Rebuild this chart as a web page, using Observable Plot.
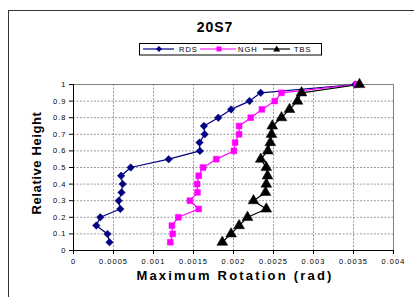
<!DOCTYPE html>
<html><head><meta charset="utf-8">
<script src="https://cdn.jsdelivr.net/npm/d3@7"></script>
<script src="https://cdn.jsdelivr.net/npm/@observablehq/plot@0.6"></script>
<style>
body{margin:0;background:#fff;font-family:Arial,"Liberation Sans",sans-serif}
#wrap{position:relative;width:414px;height:297px;overflow:hidden;background:#fff}
#chart{position:absolute;left:0;top:0}
#frame{position:absolute;left:8px;top:10px;width:420px;height:300px;border:1.5px solid #333;pointer-events:none}
.title{position:absolute;left:0;width:430px;top:19px;text-align:center;font-weight:bold;font-size:14px;letter-spacing:1px}
.xlab{position:absolute;left:35px;width:400px;top:268px;text-align:center;font-weight:bold;font-size:13px;letter-spacing:2.2px;white-space:nowrap}
.ylab{position:absolute;left:36px;top:163px;transform:translate(-50%,-50%) rotate(-90deg);font-weight:bold;font-size:13px;letter-spacing:0.6px;white-space:nowrap}
#legend{position:absolute;left:0;top:0}
</style></head><body>
<div id="wrap">
<div id="chart"></div>
<div class="title">20S7</div>
<svg id="legend" width="414" height="80">
  <rect x="139.5" y="43.5" width="182" height="11.5" fill="#fff" stroke="#000" stroke-width="1"/>
  <line x1="143" x2="174" y1="49" y2="49" stroke="#000080" stroke-width="1.2"/>
  <path d="M159,46 L162,49 L159,52 L156,49 Z" fill="#000080"/>
  <text x="179" y="51.8" font-size="7.5" letter-spacing="1" font-family="Arial,Liberation Sans,sans-serif">RDS</text>
  <line x1="200" x2="236" y1="49" y2="49" stroke="#FF00FF" stroke-width="1.2"/>
  <rect x="216.5" y="46.5" width="5" height="5" fill="#FF00FF"/>
  <text x="238" y="51.8" font-size="7.5" letter-spacing="1" font-family="Arial,Liberation Sans,sans-serif">NGH</text>
  <line x1="263" x2="290" y1="49" y2="49" stroke="#000" stroke-width="1.2"/>
  <path d="M276.7,45.5 L280.2,51.5 L273.2,51.5 Z" fill="#000"/>
  <text x="294" y="51.8" font-size="7.5" letter-spacing="1" font-family="Arial,Liberation Sans,sans-serif">TBS</text>
</svg>
<div class="ylab">Relative Height</div>
<div class="xlab">Maximum Rotation (rad)</div>
<div id="frame"></div>
</div>
<script>
const heights = [0.05,0.1,0.15,0.2,0.25,0.3,0.35,0.4,0.45,0.5,0.55,0.6,0.65,0.7,0.75,0.8,0.85,0.9,0.95,1.0];
const rds = [0.00045,0.000425,0.000285,0.000335,0.000585,0.000565,0.0006,0.000615,0.000595,0.000715,0.00119,0.00158,0.001575,0.00164,0.00163,0.00181,0.00197,0.0022,0.00234,0.00352];
const ngh = [0.00121,0.00124,0.00123,0.00131,0.001565,0.001455,0.00155,0.001545,0.001565,0.00162,0.001785,0.002005,0.00202,0.00207,0.00207,0.002215,0.002355,0.002515,0.0026,0.00354];
const tbs = [0.00186,0.00197,0.00207,0.002175,0.00241,0.00225,0.0024,0.00241,0.002425,0.00241,0.00234,0.00243,0.00246,0.002475,0.002485,0.0026,0.0027,0.0028,0.00285,0.003575];
const xTicks = [0,0.0005,0.001,0.0015,0.002,0.0025,0.003,0.0035,0.004];
const xTickLabels = ["0","0.0005","0.001","0.0015","0.002","0.0025","0.003","0.0035","0.004"];
const yTicks = [0,0.1,0.2,0.3,0.4,0.5,0.6,0.7,0.8,0.9,1];
const yTickLabels = ["0","0.1","0.2","0.3","0.4","0.5","0.6","0.7","0.8","0.9","1"];

const mk = (vals) => vals.map((v,i) => ({x: v, y: heights[i]}));
const dRDS = mk(rds), dNGH = mk(ngh), dTBS = mk(tbs);

const chart = Plot.plot({
  width: 414, height: 297,
  marginTop: 84, marginRight: 21, marginBottom: 47, marginLeft: 73,
  style: {fontFamily: "Arial, 'Liberation Sans', sans-serif", fontSize: "7.5px", letterSpacing: "1px", background: "transparent", color: "#000"},
  x: {domain: [0, 0.004]},
  y: {domain: [0, 1]},
  marks: [
    Plot.gridX(xTicks, {stroke: "#808080", strokeOpacity: 1, strokeDasharray: "2,1.5", strokeWidth: 0.8}),
    Plot.gridY(yTicks, {stroke: "#808080", strokeOpacity: 1, strokeDasharray: "2,1.5", strokeWidth: 0.8}),
    Plot.frame({stroke: "#808080", strokeWidth: 1}),
    Plot.ruleX([0], {stroke: "#000", strokeWidth: 1}),
    Plot.ruleY([0], {stroke: "#000", strokeWidth: 1}),
    Plot.axisX(xTicks, {tickSize: 4, tickPadding: 4, tickFormat: (d, i) => xTickLabels[i], label: null}),
    Plot.axisY(yTicks, {tickSize: 4, tickPadding: 3, tickFormat: (d, i) => yTickLabels[i], label: null}),
    Plot.line(dRDS, {x: "x", y: "y", stroke: "#000080", strokeWidth: 1.2}),
    Plot.line(dNGH, {x: "x", y: "y", stroke: "#FF00FF", strokeWidth: 1.2}),
    Plot.line(dTBS, {x: "x", y: "y", stroke: "#000000", strokeWidth: 1.2}),
    Plot.dot(dRDS, {x: "x", y: "y", symbol: "diamond2", r: 3.4, fill: "#000080", stroke: "#000080", strokeWidth: 0.5}),
    Plot.dot(dNGH, {x: "x", y: "y", symbol: "square", r: 3.3, fill: "#FF00FF", stroke: "#FF00FF", strokeWidth: 0.5}),
    Plot.dot(dTBS, {x: "x", y: "y", symbol: "triangle", r: 4, fill: "#000", stroke: "#000", strokeWidth: 0.5})
  ]
});
document.getElementById("chart").appendChild(chart);
</script>
</body></html>
